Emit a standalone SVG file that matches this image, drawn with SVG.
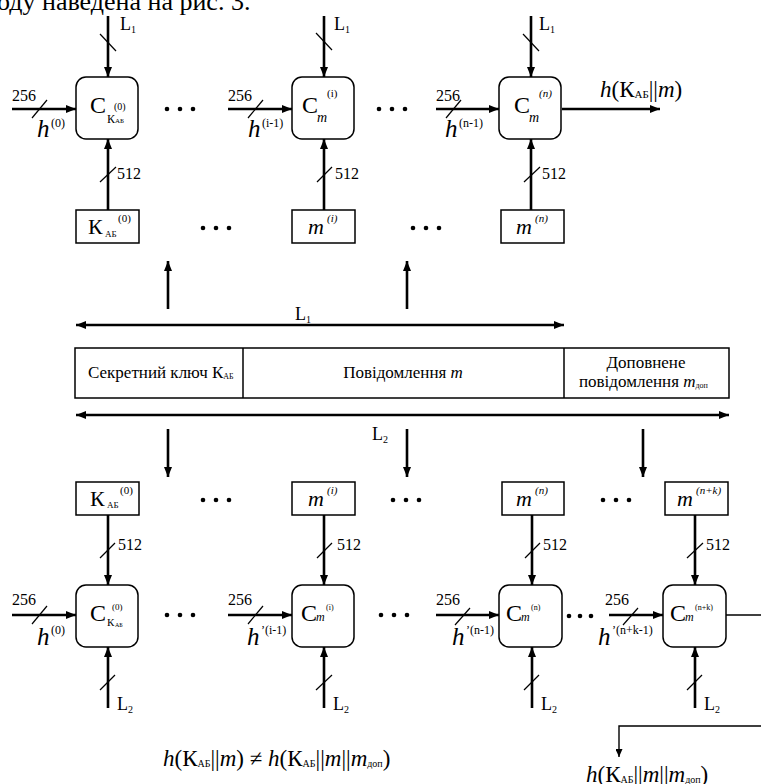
<svg xmlns="http://www.w3.org/2000/svg" width="761" height="784" viewBox="0 0 761 784">
<defs>
<marker id="ah" viewBox="0 0 10 8" refX="10" refY="4" markerWidth="10" markerHeight="8" markerUnits="userSpaceOnUse" orient="auto-start-reverse"><path d="M0,0L10,4L0,8z" fill="#000"/></marker>
<marker id="ahs" viewBox="0 0 8 7" refX="8" refY="3.5" markerWidth="8" markerHeight="7" markerUnits="userSpaceOnUse" orient="auto"><path d="M0,0L8,3.5L0,7z" fill="#000"/></marker>
</defs>
<style>
text{font-family:'Liberation Serif','Tinos','DejaVu Serif','Noto Serif',serif;fill:#000}
.i{font-style:italic}
.ln{stroke:#000;stroke-width:2.6;fill:none}
.thin{stroke:#000;stroke-width:1.4;fill:none}
.sl{stroke:#000;stroke-width:1.2}
.box{fill:#fff;stroke:#000;stroke-width:1.5}
.n{font-size:16px}
.L{font-size:18px}
.s{font-size:10px}
.h{font-size:25px}
.sup{font-size:12px}
.C{font-size:24px}
</style>

<text x="-3" y="10" font-size="26">оду наведена на рис. 3.</text>

<g id="connectors">
  <path class="ln" d="M108,16V77" marker-end="url(#ah)"/>
  <path class="ln" d="M324,16V77" marker-end="url(#ah)"/>
  <path class="ln" d="M531,16V77" marker-end="url(#ah)"/>
  <line class="sl" x1="100" y1="34" x2="116" y2="51"/>
  <line class="sl" x1="316" y1="33" x2="332" y2="50"/>
  <line class="sl" x1="523" y1="34" x2="539" y2="51"/>
  <text class="L" x="120" y="30">L<tspan class="s" dy="3">1</tspan></text>
  <text class="L" x="334" y="30">L<tspan class="s" dy="3">1</tspan></text>
  <text class="L" x="539" y="30">L<tspan class="s" dy="3">1</tspan></text>
  <path class="ln" d="M12,109H76" marker-end="url(#ah)"/>
  <path class="ln" d="M228,109H292" marker-end="url(#ah)"/>
  <path class="ln" d="M436,109H499" marker-end="url(#ah)"/>
  <line class="sl" x1="32" y1="118" x2="47" y2="100"/>
  <line class="sl" x1="248" y1="118" x2="263" y2="100"/>
  <line class="sl" x1="446" y1="118" x2="461" y2="100"/>
  <text class="n" x="12" y="101">256</text>
  <text class="n" x="228" y="101">256</text>
  <text class="n" x="436" y="101">256</text>
  <text class="h i" x="37" y="137">h</text><text class="sup" x="51" y="127">(0)</text>
  <text class="h i" x="248" y="137">h</text><text class="sup" x="262" y="127">(i-1)</text>
  <text class="h i" x="445" y="137">h</text><text class="sup" x="459" y="127">(n-1)</text>
  <path class="ln" d="M108,210V139" marker-end="url(#ah)"/>
  <path class="ln" d="M324,210V139" marker-end="url(#ah)"/>
  <path class="ln" d="M531,210V139" marker-end="url(#ah)"/>
  <line class="sl" x1="100" y1="182" x2="116" y2="167"/>
  <line class="sl" x1="317" y1="182" x2="332" y2="167"/>
  <line class="sl" x1="524" y1="182" x2="540" y2="167"/>
  <text class="n" x="117" y="179">512</text>
  <text class="n" x="335" y="179">512</text>
  <text class="n" x="542" y="179">512</text>
  <path class="ln" d="M562,109H660" marker-end="url(#ah)"/>
  <text x="600" y="97" font-size="23"><tspan class="i">h</tspan>(К<tspan font-size="11" dy="1">АБ</tspan><tspan dy="-1">||</tspan><tspan class="i">m</tspan>)</text>

  <path class="ln" d="M168,309V261" marker-end="url(#ah)"/>
  <path class="ln" d="M407,309V261" marker-end="url(#ah)"/>
  <path class="ln" d="M76,325H564" marker-start="url(#ah)" marker-end="url(#ah)"/>
  <text class="L" x="295" y="320">L<tspan class="s" dy="3">1</tspan></text>
  <path class="ln" d="M76,415H729" marker-start="url(#ah)" marker-end="url(#ah)"/>
  <text class="L" x="372" y="440">L<tspan class="s" dy="3">2</tspan></text>
  <path class="ln" d="M168,429V477" marker-end="url(#ah)"/>
  <path class="ln" d="M407,429V477" marker-end="url(#ah)"/>
  <path class="ln" d="M643,429V477" marker-end="url(#ah)"/>

  <path class="ln" d="M108,515V585" marker-end="url(#ah)"/>
  <path class="ln" d="M324,515V585" marker-end="url(#ah)"/>
  <path class="ln" d="M532,515V585" marker-end="url(#ah)"/>
  <path class="ln" d="M695,515V585" marker-end="url(#ah)"/>
  <line class="sl" x1="100" y1="558" x2="115" y2="543"/>
  <line class="sl" x1="317" y1="558" x2="332" y2="543"/>
  <line class="sl" x1="525" y1="558" x2="540" y2="543"/>
  <line class="sl" x1="687" y1="558" x2="703" y2="543"/>
  <text class="n" x="118" y="550">512</text>
  <text class="n" x="337" y="550">512</text>
  <text class="n" x="543" y="550">512</text>
  <text class="n" x="706" y="550">512</text>
  <path class="ln" d="M12,615H76" marker-end="url(#ah)"/>
  <path class="ln" d="M228,615H292" marker-end="url(#ah)"/>
  <path class="ln" d="M436,615H499" marker-end="url(#ah)"/>
  <path class="ln" d="M609,615H663" marker-end="url(#ah)"/>
  <line class="sl" x1="32" y1="624" x2="47" y2="606"/>
  <line class="sl" x1="248" y1="624" x2="263" y2="606"/>
  <line class="sl" x1="455" y1="625" x2="470" y2="608"/>
  <line class="sl" x1="623" y1="625" x2="638" y2="608"/>
  <text class="n" x="12" y="605">256</text>
  <text class="n" x="228" y="605">256</text>
  <text class="n" x="436" y="605">256</text>
  <text class="n" x="605" y="605">256</text>
  <text class="h i" x="37" y="645">h</text><text class="sup" x="51" y="634">(0)</text>
  <text class="h i" x="247" y="645">h</text><text class="sup" x="261" y="634">’(i-1)</text>
  <text class="h i" x="452" y="645">h</text><text class="sup" x="466" y="634">’(n-1)</text>
  <text class="h i" x="598" y="645">h</text><text class="sup" x="612" y="634">’(n+k-1)</text>
  <path class="ln" d="M108,708V647" marker-end="url(#ah)"/>
  <path class="ln" d="M324,708V647" marker-end="url(#ah)"/>
  <path class="ln" d="M532,708V647" marker-end="url(#ah)"/>
  <path class="ln" d="M695,708V647" marker-end="url(#ah)"/>
  <line class="sl" x1="100" y1="690" x2="115" y2="675"/>
  <line class="sl" x1="316" y1="690" x2="332" y2="675"/>
  <line class="sl" x1="524" y1="690" x2="539" y2="675"/>
  <line class="sl" x1="687" y1="690" x2="702" y2="675"/>
  <text class="L" x="117" y="710">L<tspan class="s" dy="3">2</tspan></text>
  <text class="L" x="333" y="710">L<tspan class="s" dy="3">2</tspan></text>
  <text class="L" x="541" y="710">L<tspan class="s" dy="3">2</tspan></text>
  <text class="L" x="704" y="710">L<tspan class="s" dy="3">2</tspan></text>
  <path class="thin" d="M726,615H761"/>
  <path class="thin" d="M761,726H619V757" marker-end="url(#ahs)"/>
</g>

<g id="dots">
  <circle cx="167" cy="109" r="2.3"/><circle cx="180" cy="109" r="2.3"/><circle cx="193" cy="109" r="2.3"/>
  <circle cx="379" cy="109" r="2.3"/><circle cx="392" cy="109" r="2.3"/><circle cx="405" cy="109" r="2.3"/>
  <circle cx="203" cy="228" r="2.3"/><circle cx="216" cy="228" r="2.3"/><circle cx="229" cy="228" r="2.3"/>
  <circle cx="413" cy="228" r="2.3"/><circle cx="426" cy="228" r="2.3"/><circle cx="439" cy="228" r="2.3"/>
  <circle cx="203" cy="500" r="2.3"/><circle cx="216" cy="500" r="2.3"/><circle cx="229" cy="500" r="2.3"/>
  <circle cx="393" cy="500" r="2.3"/><circle cx="406" cy="500" r="2.3"/><circle cx="419" cy="500" r="2.3"/>
  <circle cx="603" cy="500" r="2.3"/><circle cx="616" cy="500" r="2.3"/><circle cx="629" cy="500" r="2.3"/>
  <circle cx="167" cy="615" r="2.3"/><circle cx="180" cy="615" r="2.3"/><circle cx="193" cy="615" r="2.3"/>
  <circle cx="381" cy="615" r="2.3"/><circle cx="394" cy="615" r="2.3"/><circle cx="407" cy="615" r="2.3"/>
  <circle cx="569" cy="616" r="2.3"/><circle cx="580" cy="616" r="2.3"/><circle cx="591" cy="616" r="2.3"/>
</g>

<g id="c1">
  <rect class="box" x="76" y="77" width="62" height="62" rx="10"/>
  <text class="C" x="90" y="113">C</text>
  <text x="107" y="123" font-size="12">К</text><text x="115" y="123" font-size="7">АБ</text>
  <text x="114" y="110" font-size="10">(0)</text>
</g>
<g id="c2">
  <rect class="box" x="292" y="77" width="62" height="62" rx="10"/>
  <text class="C" x="302" y="113">C</text>
  <text class="i" x="317" y="122" font-size="14">m</text>
  <text x="327" y="97" font-size="11">(i)</text>
</g>
<g id="c3">
  <rect class="box" x="499" y="77" width="62" height="62" rx="10"/>
  <text class="C" x="514" y="113">C</text>
  <text class="i" x="529" y="122" font-size="14">m</text>
  <text class="i" x="539" y="97" font-size="11">(n)</text>
</g>

<g id="k1">
  <rect class="box" x="76" y="210" width="63" height="33"/>
  <text x="88" y="234" font-size="22">К</text><text x="105" y="237" font-size="9">АБ</text>
  <text x="118" y="222" font-size="11">(0)</text>
</g>
<g id="m1">
  <rect class="box" x="292" y="210" width="63" height="33"/>
  <text class="i" x="308" y="234" font-size="22">m</text>
  <text class="i" x="327" y="222" font-size="11">(i)</text>
</g>
<g id="m2">
  <rect class="box" x="501" y="210" width="63" height="33"/>
  <text class="i" x="516" y="234" font-size="22">m</text>
  <text class="i" x="535" y="222" font-size="11">(n)</text>
</g>

<g id="bar">
  <rect class="box" x="75" y="348" width="654" height="50"/>
  <line stroke="#000" stroke-width="1.5" x1="243" y1="348" x2="243" y2="398"/>
  <line stroke="#000" stroke-width="1.5" x1="564" y1="348" x2="564" y2="398"/>
  <text x="88" y="378" font-size="17">Секретний ключ К<tspan font-size="8" dy="1">АБ</tspan></text>
  <text x="403" y="378" font-size="17" text-anchor="middle">Повідомлення <tspan class="i">m</tspan></text>
  <text x="646" y="368" font-size="17" text-anchor="middle">Доповнене</text>
  <text x="579" y="387" font-size="17">повідомлення <tspan class="i">m</tspan><tspan font-size="8" dy="1">доп</tspan></text>
</g>

<g id="k2">
  <rect class="box" x="76" y="482" width="63" height="33"/>
  <text x="90" y="506" font-size="22">К</text><text x="107" y="508" font-size="9">АБ</text>
  <text x="120" y="494" font-size="11">(0)</text>
</g>
<g id="m3">
  <rect class="box" x="292" y="482" width="63" height="33"/>
  <text class="i" x="308" y="506" font-size="22">m</text>
  <text class="i" x="327" y="494" font-size="11">(i)</text>
</g>
<g id="m4">
  <rect class="box" x="502" y="482" width="62" height="33"/>
  <text class="i" x="516" y="506" font-size="22">m</text>
  <text class="i" x="535" y="494" font-size="11">(n)</text>
</g>
<g id="m5">
  <rect class="box" x="665" y="482" width="63" height="33"/>
  <text class="i" x="677" y="506" font-size="22">m</text>
  <text class="i" x="696" y="494" font-size="11">(n+k)</text>
</g>

<g id="c4">
  <rect class="box" x="76" y="585" width="62" height="62" rx="10"/>
  <text class="C" x="90" y="621">C</text>
  <text x="107" y="626" font-size="11">К</text><text x="115" y="627" font-size="6">АБ</text>
  <text x="112" y="610" font-size="9">(0)</text>
</g>
<g id="c5">
  <rect class="box" x="292" y="585" width="62" height="62" rx="10"/>
  <text class="C" x="301" y="621">C</text>
  <text class="i" x="316" y="621" font-size="12">m</text>
  <text x="326" y="610" font-size="8">(i)</text>
</g>
<g id="c6">
  <rect class="box" x="499" y="585" width="63" height="62" rx="10"/>
  <text class="C" x="506" y="621">C</text>
  <text class="i" x="521" y="621" font-size="12">m</text>
  <text x="531" y="610" font-size="8">(n)</text>
</g>
<g id="c7">
  <rect class="box" x="663" y="585" width="63" height="62" rx="10"/>
  <text class="C" x="670" y="621">C</text>
  <text class="i" x="685" y="621" font-size="12">m</text>
  <text x="695" y="610" font-size="8">(n+k)</text>
</g>

<text x="163" y="766" font-size="23"><tspan class="i">h</tspan>(К<tspan font-size="10" dy="1">АБ</tspan><tspan dy="-1">||</tspan><tspan class="i">m</tspan>) ≠ <tspan class="i">h</tspan>(К<tspan font-size="10" dy="1">АБ</tspan><tspan dy="-1">||</tspan><tspan class="i">m</tspan>||<tspan class="i">m</tspan><tspan font-size="10" dy="1">доп</tspan><tspan dy="-1">)</tspan></text>
<text x="586" y="782" font-size="23"><tspan class="i">h</tspan>(К<tspan font-size="10" dy="1">АБ</tspan><tspan dy="-1">||</tspan><tspan class="i">m</tspan>||<tspan class="i">m</tspan><tspan font-size="10" dy="1">доп</tspan><tspan dy="-1">)</tspan></text>
</svg>
